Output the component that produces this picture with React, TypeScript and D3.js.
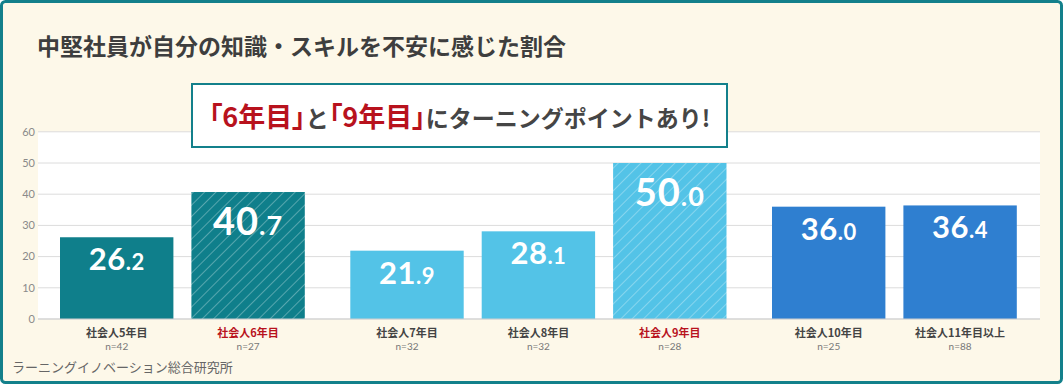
import React from 'react';
import * as d3 from 'd3';

// data
const categories = ['社会人5年目', '社会人6年目', '社会人7年目', '社会人8年目', '社会人9年目', '社会人10年目', '社会人11年目以上'];
const values = [26.2, 40.7, 21.9, 28.1, 50.0, 36.0, 36.4];
const sampleSizes = ['n=42', 'n=27', 'n=32', 'n=32', 'n=28', 'n=25', 'n=88'];
const groups = [0, 0, 1, 1, 1, 2, 2];
const highlighted = ['社会人6年目', '社会人9年目'];
const yTicks = [0, 10, 20, 30, 40, 50, 60];

const title = '中堅社員が自分の知識・スキルを不安に感じた割合';
const source = 'ラーニングイノベーション総合研究所';

const W = 1063;
const H = 384;
const JP = '"Noto Sans CJK JP", "Noto Sans", sans-serif';
const NUM = 'Lato, "Noto Sans", sans-serif';

const TEAL = '#13808b';
const RED = '#b8121d';
const CREAM = '#fdf8e9';

export default function App() {
  const plotLeft = 38;
  const plotRight = 1040;

  const y = d3.scaleLinear().domain([0, 60]).range([319, 131.8]);

  const step = 131.4;
  const gap = 18;
  const groupGap = 27.5;
  const x = d3
    .scaleBand<string>()
    .domain(categories)
    .range([60, 60 + categories.length * step - gap])
    .paddingInner(gap / step)
    .paddingOuter(0);

  const color = d3.scaleOrdinal<number, string>().domain([0, 1, 2]).range(['#0f7f8b', '#53c3e7', '#2f7fd0']);
  const hatchId = (g: number) => `hatch-${g}`;

  const barX = (c: string, i: number) => (x(c) ?? 0) + groups[i] * groupGap;

  return (
    <svg width={W} height={H} style={{ position: 'absolute', left: 0, top: 0, display: 'block' }}>
      <defs>
        {[0, 1, 2].map((g) => (
          <pattern
            key={g}
            id={hatchId(g)}
            patternUnits="userSpaceOnUse"
            width={8}
            height={8}
            patternTransform="rotate(45)"
          >
            <rect width={8} height={8} fill={color(g)} />
            <line x1={0} y1={0} x2={0} y2={8} stroke="#fff" strokeOpacity={0.3} strokeWidth={2} />
          </pattern>
        ))}
      </defs>

      <rect x={1.5} y={1.5} width={W - 3} height={H - 3} rx={4} fill={CREAM} stroke={TEAL} strokeWidth={3} />

      <text x={37} y={55} fontFamily={JP} fontWeight={700} fontSize={23} fill="#3e3e3e">
        {title}
      </text>

      {/* plot area */}
      <rect x={plotLeft} y={y(60)} width={plotRight - plotLeft} height={y(0) - y(60)} fill="#fff" />
      {yTicks.map((t) => (
        <g key={t}>
          <line x1={plotLeft} x2={plotRight} y1={y(t)} y2={y(t)} stroke="#dcdcdc" strokeWidth={1} />
          <text x={35} y={y(t)} dy="0.35em" textAnchor="end" fontFamily={NUM} fontSize={11} fill="#8a8a8a">
            {t}
          </text>
        </g>
      ))}

      {categories.map((c, i) => {
        const hl = highlighted.includes(c);
        const bx = barX(c, i);
        const bw = x.bandwidth();
        const top = y(values[i]);
        const [intPart, decPart] = values[i].toFixed(1).split('.');
        return (
          <g key={c}>
            <rect
              x={bx}
              y={top}
              width={bw}
              height={y(0) - top}
              fill={hl ? `url(#${hatchId(groups[i])})` : color(groups[i])}
            />
            <text
              x={bx + bw / 2}
              y={top + (hl ? 43 : 33)}
              textAnchor="middle"
              fontFamily={NUM}
              fontWeight={700}
              fill="#fff"
              letterSpacing={hl ? 1 : 0.5}
            >
              <tspan fontSize={hl ? 38 : 31}>{intPart}</tspan>
              <tspan fontSize={hl ? 27 : 22}>.{decPart}</tspan>
            </text>
            <text
              x={bx + bw / 2}
              y={337}
              textAnchor="middle"
              fontFamily={JP}
              fontWeight={700}
              fontSize={11}
              fill={hl ? RED : '#444'}
            >
              {c}
            </text>
            <text x={bx + bw / 2} y={350} textAnchor="middle" fontFamily={NUM} fontSize={10} fill="#777">
              {sampleSizes[i]}
            </text>
          </g>
        );
      })}

      <line x1={plotLeft} x2={plotRight} y1={y(0)} y2={y(0)} stroke="#cfcfcf" strokeWidth={1} />

      {/* callout */}
      <rect x={192} y={84} width={535} height={63} fill="#fff" stroke={TEAL} strokeWidth={2} />
      <text x={459.5} y={127} textAnchor="middle" fontFamily={JP} fontWeight={700} fill="#454545">
        <tspan fontSize={27} fill={RED} style={{ fontFeatureSettings: '"palt"' }}>「6年目」</tspan>
        <tspan fontSize={23}>と</tspan>
        <tspan fontSize={27} fill={RED} style={{ fontFeatureSettings: '"palt"' }}>「9年目」</tspan>
        <tspan fontSize={23}>にターニングポイントあり!</tspan>
      </text>

      <text x={12} y={372} fontFamily={JP} fontSize={13} fill="#666">
        {source}
      </text>
    </svg>
  );
}
